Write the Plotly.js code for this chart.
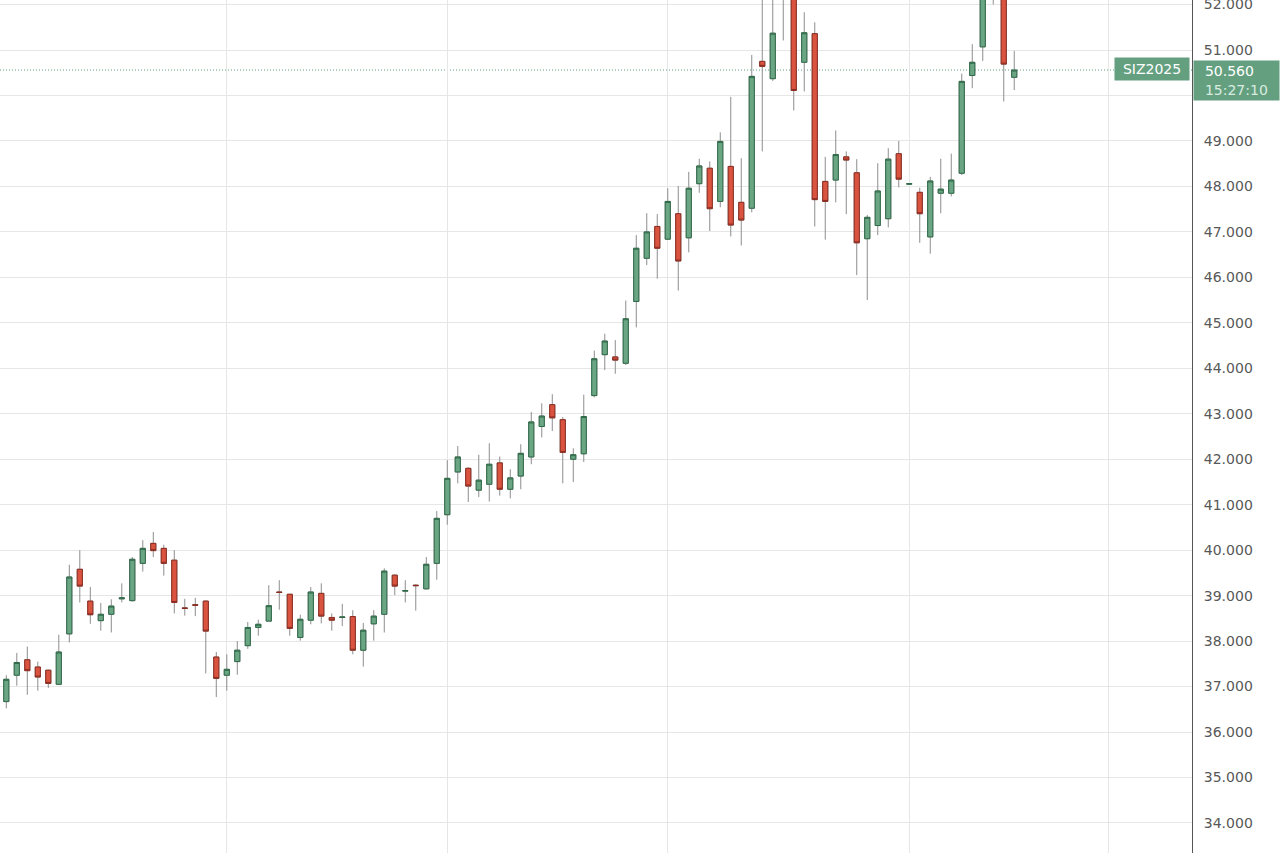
<!DOCTYPE html>
<html>
<head>
<meta charset="utf-8">
<script src="https://cdn.plot.ly/plotly-3.0.1.min.js"></script>
<style>
  html, body { margin: 0; padding: 0; background: #ffffff; }
  #chart { width: 1280px; height: 853px; }
</style>
</head>
<body>
<div id="chart"></div>
<script>
// ---- data ----
const openVals = [
  36.67, 37.25, 37.59, 37.43, 37.36, 37.05, 38.16, 39.58, 38.88, 38.45,
  38.59, 38.93, 38.89, 39.71, 40.15, 40.04, 39.78, 38.73, 38.80, 38.88,
  37.65, 37.25, 37.55, 37.90, 38.30, 38.44, 39.08, 39.03, 38.08, 38.46,
  39.05, 38.52, 38.52, 38.54, 37.80, 38.38, 38.59, 39.45, 39.10, 39.23,
  39.15, 39.71, 40.78, 41.72, 41.80, 41.32, 41.45, 41.92, 41.34, 41.63,
  42.05, 42.72, 43.20, 42.87, 42.00, 42.12, 43.40, 44.30, 44.25, 44.11,
  45.47, 46.42, 47.12, 46.84, 47.40, 46.87, 48.06, 48.40, 47.67, 48.44,
  47.65, 47.52, 50.75, 50.37, 52.40, 52.60, 50.73, 51.36, 48.11, 48.14,
  48.65, 48.30, 46.85, 47.14, 47.29, 48.72, 48.05, 47.87, 46.89, 47.85,
  47.85, 48.29, 50.44, 51.07, 52.40, 52.50, 50.40
];
const highVals = [
  37.25, 37.74, 37.88, 37.55, 37.37, 38.14, 39.68, 40.00, 39.19, 38.84,
  38.92, 39.27, 39.85, 40.22, 40.40, 40.12, 40.00, 38.93, 38.95, 38.89,
  37.76, 37.71, 38.00, 38.42, 38.47, 39.23, 39.34, 39.04, 38.58, 39.19,
  39.27, 38.61, 38.82, 38.68, 38.40, 38.68, 39.60, 39.47, 39.34, 39.25,
  39.85, 40.86, 41.98, 42.29, 41.82, 42.10, 42.35, 42.06, 41.78, 42.33,
  43.04, 43.23, 43.43, 42.93, 42.24, 43.42, 44.39, 44.76, 44.62, 45.49,
  46.93, 47.41, 47.39, 47.96, 48.01, 48.32, 48.61, 48.55, 49.19, 49.97,
  48.62, 50.89, 52.40, 52.20, 52.90, 52.80, 51.83, 51.61, 48.65, 49.23,
  48.77, 48.60, 47.37, 48.51, 48.84, 49.00, 48.07, 47.97, 48.21, 48.61,
  48.72, 50.48, 51.13, 52.60, 52.80, 52.70, 50.98
];
const lowVals = [
  36.52, 37.02, 36.82, 36.91, 36.97, 37.04, 37.97, 38.85, 38.38, 38.23,
  38.19, 38.85, 38.87, 39.53, 39.85, 39.44, 38.61, 38.56, 38.55, 37.29,
  36.77, 36.91, 37.26, 37.83, 38.12, 38.44, 38.69, 38.12, 38.01, 38.37,
  38.39, 38.23, 38.33, 37.71, 37.44, 38.01, 38.19, 39.01, 38.85, 38.67,
  39.14, 39.35, 40.56, 41.47, 41.06, 41.17, 41.07, 41.20, 41.14, 41.34,
  41.89, 42.48, 42.62, 41.47, 41.50, 41.94, 43.36, 43.96, 43.88, 44.07,
  44.90, 46.27, 45.97, 46.83, 45.71, 46.55, 47.86, 47.02, 47.54, 46.90,
  46.70, 47.43, 48.77, 50.32, 51.21, 49.67, 50.09, 47.12, 46.83, 47.65,
  47.39, 46.05, 45.50, 46.93, 47.10, 47.98, 48.04, 46.76, 46.52, 47.41,
  47.78, 48.25, 50.16, 50.76, 52.00, 49.87, 50.12
];
const closeVals = [
  37.16, 37.53, 37.35, 37.21, 37.07, 37.76, 39.41, 39.21, 38.58, 38.59,
  38.77, 38.95, 39.80, 40.04, 39.99, 39.71, 38.85, 38.72, 38.79, 38.22,
  37.18, 37.38, 37.80, 38.30, 38.37, 38.78, 39.07, 38.28, 38.48, 39.08,
  38.55, 38.46, 38.53, 37.80, 38.24, 38.55, 39.54, 39.21, 39.11, 39.22,
  39.69, 40.70, 41.58, 42.05, 41.41, 41.54, 41.89, 41.34, 41.59, 42.13,
  42.82, 42.95, 42.91, 42.15, 42.10, 42.94, 44.21, 44.60, 44.18, 45.09,
  46.64, 47.00, 46.64, 47.67, 46.36, 47.96, 48.45, 47.51, 48.99, 47.15,
  47.26, 50.42, 50.64, 51.37, 52.70, 50.11, 51.38, 47.71, 47.67, 48.70,
  48.58, 46.76, 47.32, 47.90, 48.60, 48.16, 48.06, 47.40, 48.12, 47.94,
  48.14, 50.31, 50.73, 52.40, 52.50, 50.69, 50.56
];
const monthStartIdx = [21, 42, 63, 86, 105];   // vertical grid lines (session index)
const priceTicks = [34, 35, 36, 37, 38, 39, 40, 41, 42, 43, 44, 45, 46, 47, 48, 49, 50, 51, 52];
const priceTickText = ['34.000', '35.000', '36.000', '37.000', '38.000', '39.000', '40.000',
  '41.000', '42.000', '43.000', '44.000', '45.000', '46.000', '47.000', '48.000', '49.000',
  '', '51.000', '52.000'];   // 50.000 sits under the last-price tag
const symbolLabel = "SIZ2025";
const lastPriceText = "50.560";
const countdownText = "15:27:10";

// ---- derived ----
const idx = openVals.map((_, i) => i);
const bodyHigh = openVals.map((o, i) => Math.max(o, closeVals[i]));
const bodyLow = openVals.map((o, i) => Math.min(o, closeVals[i]));
const lastClose = closeVals[closeVals.length - 1];

const GREEN_FILL = '#6aa584', GREEN_LINE = '#2f6a48';
const RED_FILL = '#d9533f', RED_LINE = '#8c2c21';
const WICK = '#8d8d8d';
const TAG = '#64a07f';

const wicks = {
  type: 'candlestick', x: idx, open: openVals, high: highVals, low: lowVals, close: closeVals,
  increasing: { line: { color: WICK, width: 1 }, fillcolor: 'rgba(0,0,0,0)' },
  decreasing: { line: { color: WICK, width: 1 }, fillcolor: 'rgba(0,0,0,0)' },
  hoverinfo: 'skip', showlegend: false
};
const bodies = {
  type: 'candlestick', x: idx, open: openVals, high: bodyHigh, low: bodyLow, close: closeVals,
  increasing: { line: { color: GREEN_LINE, width: 1 }, fillcolor: GREEN_FILL },
  decreasing: { line: { color: RED_LINE, width: 1 }, fillcolor: RED_FILL },
  hoverinfo: 'skip', showlegend: false
};

const FONT = '"DejaVu Sans", Inter, Arial, sans-serif';

const layout = {
  width: 1280, height: 853,
  margin: { l: 0, r: 88, t: 0, b: 0, pad: 0 },
  paper_bgcolor: '#ffffff', plot_bgcolor: '#ffffff',
  showlegend: false,
  font: { family: FONT, size: 14, color: '#555555' },
  xaxis: {
    type: 'linear', range: [-0.6, 112.93],
    tickmode: 'array', tickvals: monthStartIdx, showticklabels: false, ticks: '',
    showgrid: true, gridcolor: '#e6e6e6', gridwidth: 1,
    zeroline: false, showline: false,
    rangeslider: { visible: false }, fixedrange: true
  },
  yaxis: {
    side: 'right', range: [33.34, 52.10],
    tickmode: 'array', tickvals: priceTicks, ticktext: priceTickText,
    ticks: '', ticklabelstandoff: 8, ticklabeloverflow: 'allow',
    tickfont: { family: FONT, size: 14, color: '#585858' },
    showgrid: true, gridcolor: '#e6e6e6', gridwidth: 1,
    zeroline: false, showline: true, linecolor: '#555555', linewidth: 1,
    automargin: false, fixedrange: true
  },
  shapes: [{
    type: 'line', xref: 'paper', x0: 0, x1: 1, yref: 'y', y0: lastClose, y1: lastClose,
    line: { color: '#5fa37f', width: 1, dash: '1px,2px' }, layer: 'between'
  }],
  annotations: [
    {
      xref: 'paper', x: 1, xanchor: 'right', xshift: -2,
      yref: 'y', y: lastClose, yanchor: 'middle', yshift: 1,
      text: symbolLabel, showarrow: false,
      font: { family: FONT, size: 14, color: '#ffffff' },
      bgcolor: TAG, borderpad: 2, width: 70, height: 18, align: 'center'
    },
    {
      xref: 'paper', x: 1, xanchor: 'left', xshift: 1,
      yref: 'y', y: lastClose, yanchor: 'top', yshift: 10,
      text: '&nbsp;&nbsp;' + lastPriceText + '<br>&nbsp;&nbsp;<span style="color:#d9ece1">' + countdownText + '</span>',
      showarrow: false,
      font: { family: FONT, size: 14, color: '#ffffff' },
      bgcolor: TAG, borderpad: 2, width: 81, height: 35, align: 'left'
    }
  ]
};

Plotly.newPlot('chart', [wicks, bodies], layout, { staticPlot: true, displayModeBar: false });
</script>
</body>
</html>
